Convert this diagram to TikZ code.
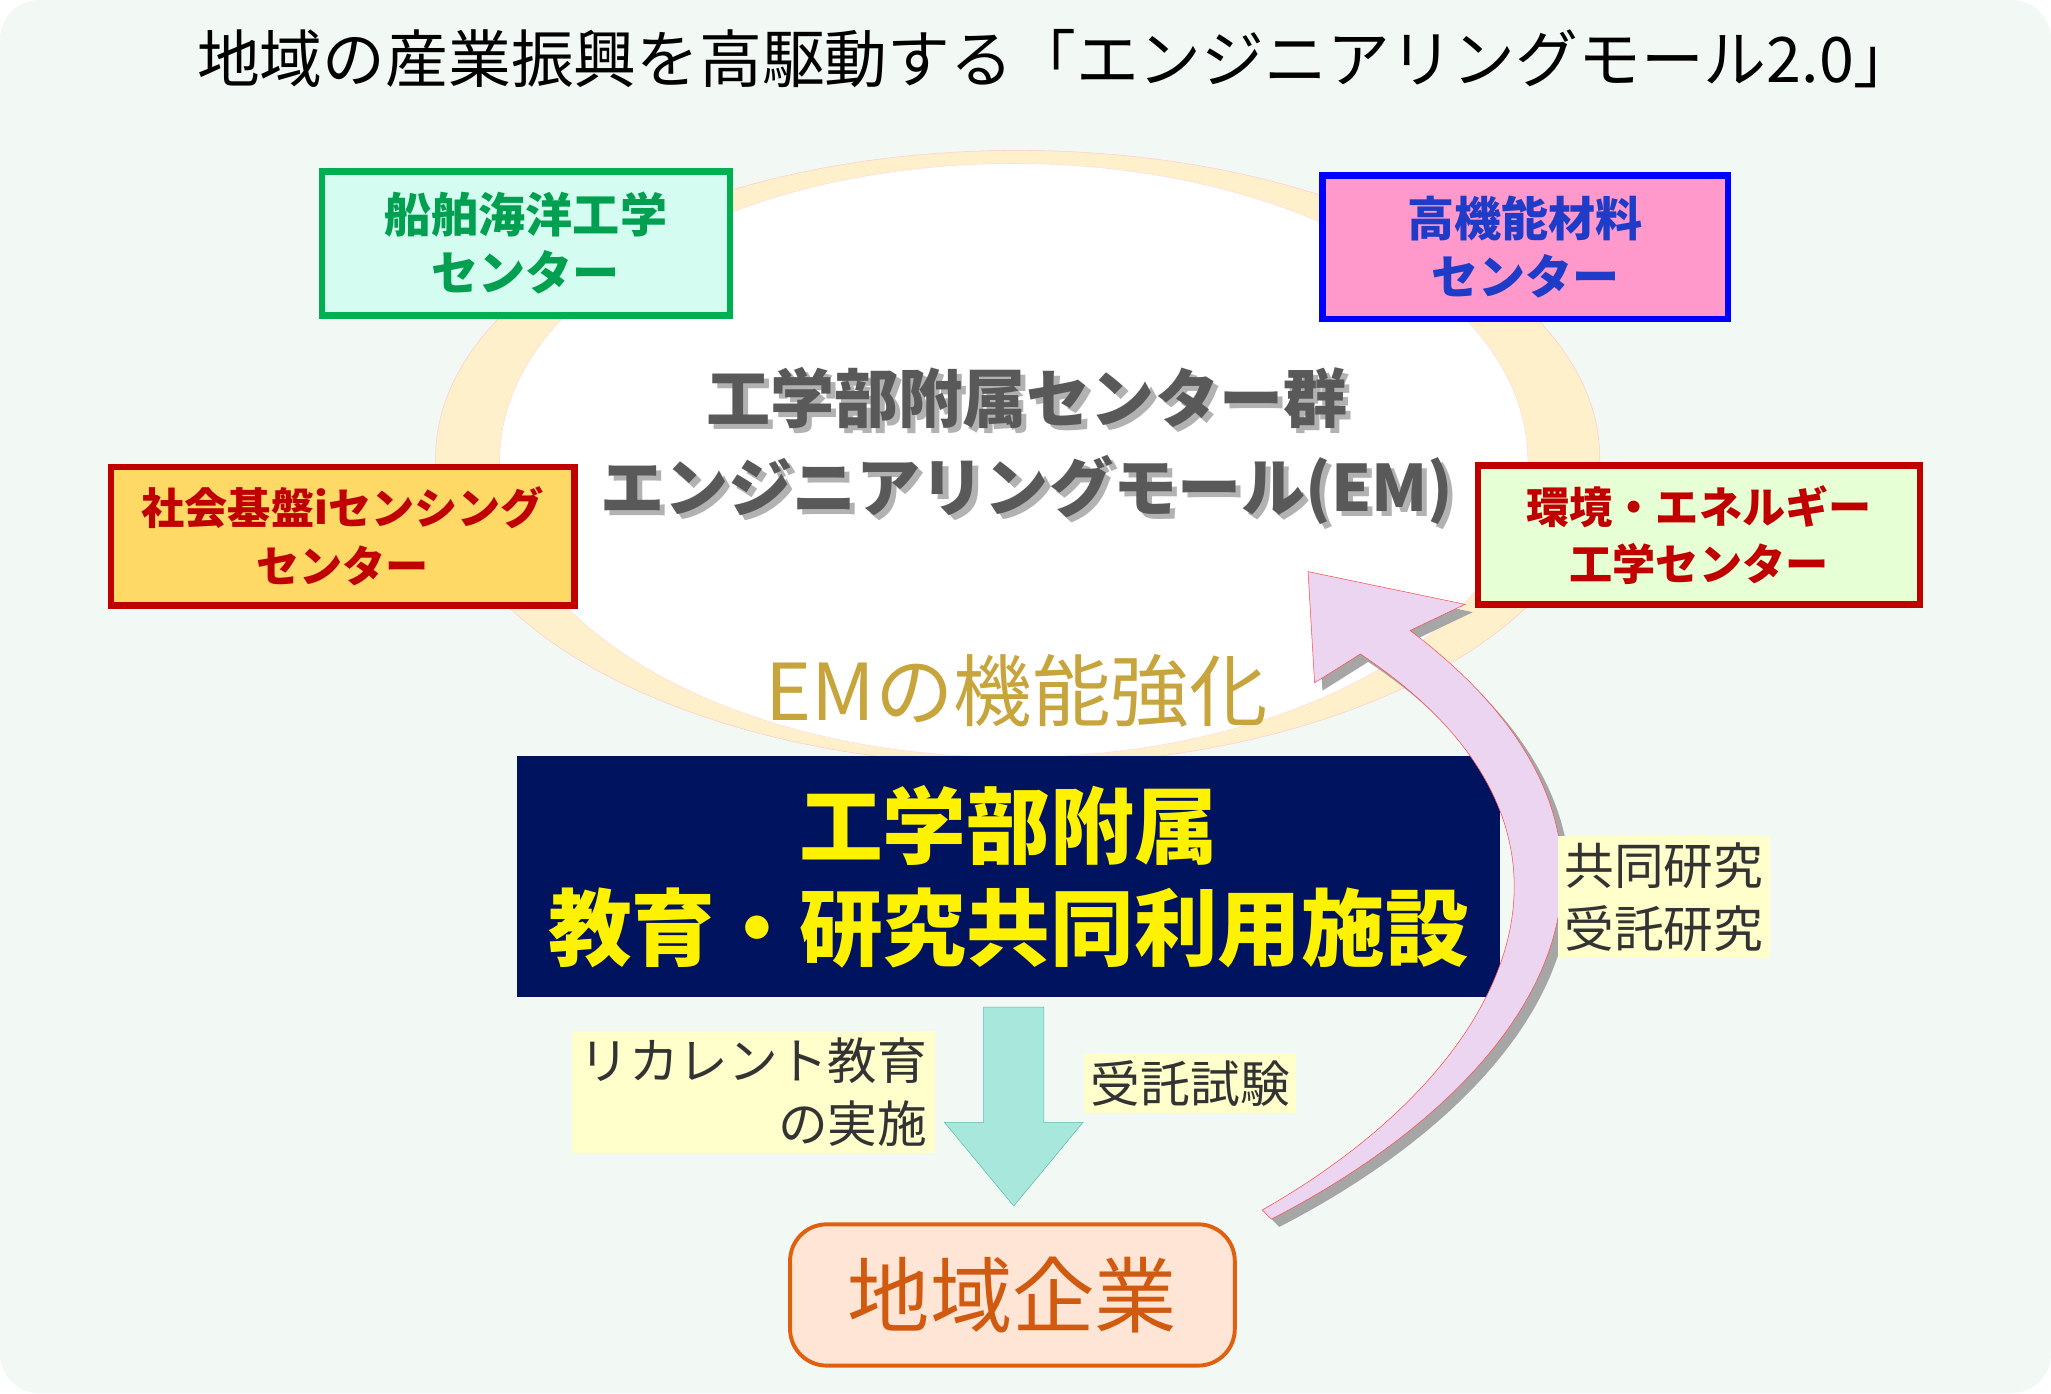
\documentclass[tikz,border=0pt]{standalone}
\usepackage{fontspec}
\setmainfont{Noto Sans CJK JP}
\usepackage{tikz}
\usetikzlibrary{positioning,shapes.geometric,calc}
\definecolor{bgc}{HTML}{F2F8F3}
\definecolor{ringc}{HTML}{FFF0CC}
\definecolor{navy}{HTML}{00135E}
\definecolor{lab}{HTML}{FFFFCC}
\definecolor{darkred}{HTML}{C00000}
\newcommand{\fs}[2]{\fontsize{#1}{#2}\selectfont}
\tikzset{
  center/.style = {draw, line width=5pt, minimum height=110pt, align=center, font=\fs{36}{44}\bfseries},
  label/.style = {fill=lab, inner sep=5pt, font=\fs{38}{48}, text=black!80},
}
\begin{document}
\begin{tikzpicture}[x=1pt, y=-1pt]
\useasboundingbox (0,0) rectangle (1568,1065);
\fill[bgc, rounded corners=30pt] (0,0) rectangle (1568,1065);
\node (title) at (808,45) {\fs{48}{56}地域の産業振興を高駆動する「エンジニアリングモール2.0」};
% ring of centers
\draw[draw=red!20, fill=ringc] (778,350) ellipse (445 and 235);
\draw[draw=red!15, fill=white] (775,352) ellipse (393 and 227);
\node[center, draw={rgb,255:red,0;green,176;blue,80}, fill={rgb,255:red,213;green,252;blue,240}, text={rgb,255:red,0;green,160;blue,80}, minimum width=312pt] (ship) at (402,186) {船舶海洋工学\\センター};
\node[center, draw=blue, fill={rgb,255:red,255;green,153;blue,204}, text={rgb,255:red,30;green,60;blue,200}, minimum width=310pt] (mat) at (1166,189) {高機能材料\\センター};
\node[center, draw=darkred, fill={rgb,255:red,255;green,217;blue,102}, text=darkred, minimum width=354pt, minimum height=106pt, font=\fs{33}{44}\bfseries] (soc) at (262,410) {社会基盤iセンシング\\センター};
\node[center, draw=darkred, fill={rgb,255:red,230;green,255;blue,213}, text=darkred, minimum width=338pt, minimum height=106pt, font=\fs{33}{44}\bfseries] (env) at (1299,409) {環境・エネルギー\\工学センター};
\node[align=center, font=\fs{49}{68}\bfseries, text=black!30, inner sep=0pt] (emsh) at (789,345) {工学部附属センター群\\エンジニアリングモール(EM)};
\node[align=center, font=\fs{49}{68}\bfseries, text=black!65, inner sep=0pt] (em) at (785,341) {工学部附属センター群\\エンジニアリングモール(EM)};
\node[font=\fs{60}{70}, text={rgb,255:red,200;green,165;blue,60}] (func) at (777,528) {EMの機能強化};
% facility
\node[fill=navy, minimum width=752pt, minimum height=184pt, align=center, text=yellow, font=\fs{64}{78}\bfseries] (fac) at (771,670) {工学部附属\\教育・研究共同利用施設};
\node[draw={rgb,255:red,224;green,96;blue,16}, line width=3pt, rounded corners=28pt, fill={rgb,255:red,255;green,229;blue,213}, minimum width=340pt, minimum height=108pt, font=\fs{63}{70}, text={rgb,255:red,208;green,90;blue,16}] (firm) at (774,990) {地域企業};
% down arrow
\draw[fill={rgb,255:red,168;green,232;blue,220}, draw={rgb,255:red,90;green,190;blue,170}] (752,770) -- (798,770) -- (798,858) -- (828,858) -- (775,922) -- (722,858) -- (752,858) -- cycle;
\node[label, align=right, minimum width=278pt] (rec) at (576,835) {リカレント教育\\の実施};
\node[label] (test) at (910,828) {受託試験};
% curved arrow
\begin{scope}[shift={(6,6)}]
\fill[black!35] (972,932) .. controls (1170,830) and (1300,650) .. (1078,482) -- (1120,462) -- (1000,437) -- (1005,522) -- (1040,500) .. controls (1250,640) and (1150,820) .. (965,925) -- cycle;
\end{scope}
\draw[fill={rgb,255:red,235;green,213;blue,240}, draw=red!70] (972,932) .. controls (1170,830) and (1300,650) .. (1078,482) -- (1120,462) -- (1000,437) -- (1005,522) -- (1040,500) .. controls (1250,640) and (1150,820) .. (965,925) -- cycle;
\node[label, align=left] (joint) at (1272,686) {共同研究\\受託研究};
\end{tikzpicture}
\end{document}
